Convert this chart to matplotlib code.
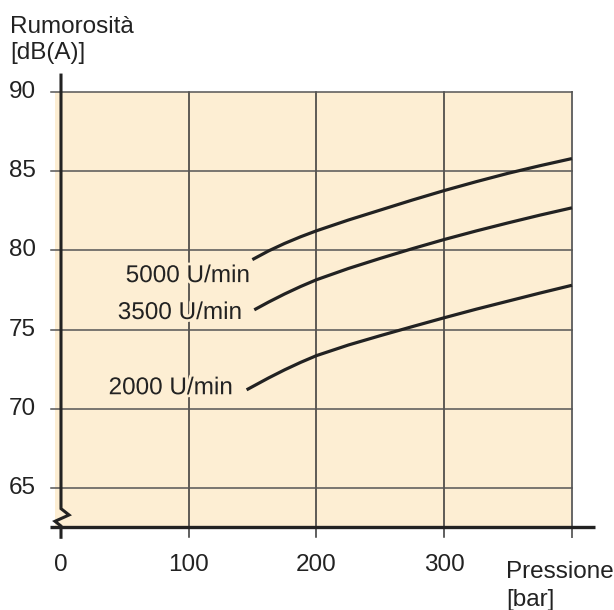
import matplotlib.pyplot as plt
import matplotlib.patheffects as pe
from matplotlib.patches import Rectangle

plt.rcParams['font.family'] = ['Liberation Sans', 'DejaVu Sans']

# dati
rpm_labels = ['5000 U/min', '3500 U/min', '2000 U/min']
p_5000 = [149.8, 162.5, 175, 187.5, 200, 225, 250, 275, 300, 325, 350, 375, 400]
db_5000 = [79.42, 79.97, 80.44, 80.86, 81.24, 81.92, 82.55, 83.18, 83.78, 84.34, 84.87, 85.35, 85.8]
p_3500 = [151.3, 162.5, 175, 187.5, 200, 225, 250, 275, 300, 325, 350, 375, 400]
db_3500 = [76.25, 76.74, 77.25, 77.72, 78.15, 78.86, 79.5, 80.11, 80.69, 81.23, 81.74, 82.23, 82.69]
p_2000 = [145.3, 162.5, 175, 187.5, 200, 225, 250, 275, 300, 325, 350, 375, 400]
db_2000 = [71.2, 71.95, 72.46, 72.93, 73.36, 74.03, 74.62, 75.19, 75.75, 76.29, 76.8, 77.31, 77.8]
curves_p = [p_5000, p_3500, p_2000]
curves_db = [db_5000, db_3500, db_2000]
xticks = [0, 100, 200, 300]
yticks = [65, 70, 75, 80, 85, 90]

bg = '#fdeed3'
ink = '#222222'
fs = 17.5

fig = plt.figure(figsize=(6.14, 6.10), dpi=100)
ax = fig.add_axes([0, 0, 1, 1])
# mappatura pixel -> dati: x = (px-61)/1.2775, y = 90-(py-92)/15.84
ax.set_xlim(-47.75, 432.9)
ax.set_ylim(57.30, 95.81)
ax.axis('off')

y_bot = 62.54
ax.add_patch(Rectangle((-4.7, y_bot), 404.7, 90 - y_bot, facecolor=bg, edgecolor='none', zorder=0))

# griglia
for x in [100, 200, 300]:
    ax.plot([x, x], [y_bot - 0.65, 90], color='#333333', lw=1.1, zorder=1)
ax.plot([400, 400], [y_bot - 0.65, 90], color='#666666', lw=1.4, zorder=1)
for y in yticks:
    ax.plot([-8, 400], [y, y], color='#555555', lw=1.1, zorder=1)

# assi
ax.plot([-8.6, 418], [y_bot, y_bot], color=ink, lw=2.4, zorder=3, solid_capstyle='butt')
ax.plot([0, 0, 6.3, -4.7, 0, 0], [91.07, 63.7, 63.3, 62.9, 62.6, y_bot - 0.65],
        color=ink, lw=2.2, zorder=3, solid_joinstyle='miter')

# curve
for xs, ys in zip(curves_p, curves_db):
    ax.plot(xs, ys, color=ink, lw=2.3, zorder=4, solid_capstyle='butt')

halo = [pe.withStroke(linewidth=4, foreground=bg)]
lab_x = [148, 141.7, 134.6]
lab_y = [78.38, 76.05, 71.3]
for t, lx, ly in zip(rpm_labels, lab_x, lab_y):
    ax.text(lx, ly, t, ha='right', va='center', fontsize=fs, color=ink, zorder=5, path_effects=halo)

# etichette assi
for y in yticks:
    ax.text(-19.6, y, str(y), ha='right', va='center', fontsize=fs, color=ink)
for x in xticks:
    ax.text(x, 60.14, str(x), ha='center', va='center', fontsize=fs, color=ink)

ax.text(-39.9, 94.1, 'Rumorosità', ha='left', va='center', fontsize=fs, color=ink)
ax.text(-39.9, 92.46, '[dB(A)]', ha='left', va='center', fontsize=fs, color=ink)
ax.text(348.3, 59.72, 'Pressione', ha='left', va='center', fontsize=fs, color=ink)
ax.text(348.3, 57.93, '[bar]', ha='left', va='center', fontsize=fs, color=ink)

fig.savefig('out.png', dpi=100)
